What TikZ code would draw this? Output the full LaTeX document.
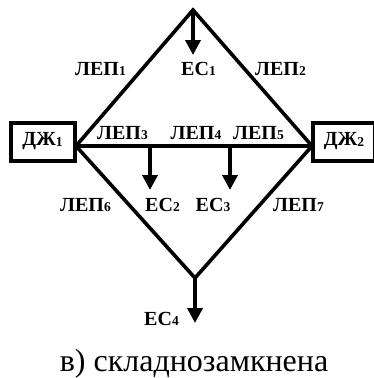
\documentclass[tikz,border=0pt]{standalone}
\usepackage{fontspec}
\setmainfont{Liberation Serif}
\usetikzlibrary{arrows.meta}
\newcommand{\lsub}[1]{\raisebox{-0.5pt}{\fontsize{13.5}{13.5}\selectfont #1}}
\tikzset{
  wire/.style={line width=3.6pt,line join=miter},
  feed/.style={line width=3.6pt,-{Triangle[length=15pt,width=15pt]}},
  busbox/.style={draw,line width=4pt,minimum height=38pt,inner sep=0pt,font=\bfseries\fontsize{20}{20}\selectfont},
  lbl/.style={inner sep=0pt,font=\bfseries\fontsize{20}{20}\selectfont},
  captext/.style={inner sep=0pt,anchor=base,font=\fontsize{32}{32}\selectfont}
}
\begin{document}
\begin{tikzpicture}[x=1pt,y=-1pt]
\useasboundingbox (0,0) rectangle (374,378);
\node[busbox,minimum width=64pt] (g1) at (42.5,141.5) {ДЖ\lsub{1}};
\node[busbox,minimum width=62pt] (g2) at (344,141.5) {ДЖ\lsub{2}};
\coordinate (jl) at (76,146);
\coordinate (jr) at (312,146);
\coordinate (top) at (193,10);
\coordinate (bot) at (195,278);
\coordinate (t1) at (193,55);
\coordinate (b2) at (150,146);
\coordinate (e2) at (150,190);
\coordinate (b3) at (230,146);
\coordinate (e3) at (230,190);
\coordinate (e4) at (195,323);
\draw[wire] (jl) -- (top) -- (jr) -- (bot) -- cycle;
\draw[wire,line width=3.2pt] (jl) -- (jr);
\draw[feed] (top) -- (t1);
\draw[feed] (b2) -- (e2);
\draw[feed] (b3) -- (e3);
\draw[feed] (bot) -- (e4);
\node[lbl] (l1) at (100.5,69) {ЛЕП\lsub{1}};
\node[lbl] (l2) at (280.5,69) {ЛЕП\lsub{2}};
\node[lbl] (l3) at (122.5,133) {ЛЕП\lsub{3}};
\node[lbl] (l4) at (196,133) {ЛЕП\lsub{4}};
\node[lbl] (l5) at (258.5,133) {ЛЕП\lsub{5}};
\node[lbl] (l6) at (85.5,205) {ЛЕП\lsub{6}};
\node[lbl] (l7) at (298.5,205) {ЛЕП\lsub{7}};
\node[lbl] (c1) at (198.5,69) {ЕС\lsub{1}};
\node[lbl] (c2) at (162.5,205) {ЕС\lsub{2}};
\node[lbl] (c3) at (213,205) {ЕС\lsub{3}};
\node[lbl] (c4) at (161.5,319) {ЕС\lsub{4}};
\node[captext] (t) at (194,371.5) {в) складнозамкнена};
\end{tikzpicture}
\end{document}
